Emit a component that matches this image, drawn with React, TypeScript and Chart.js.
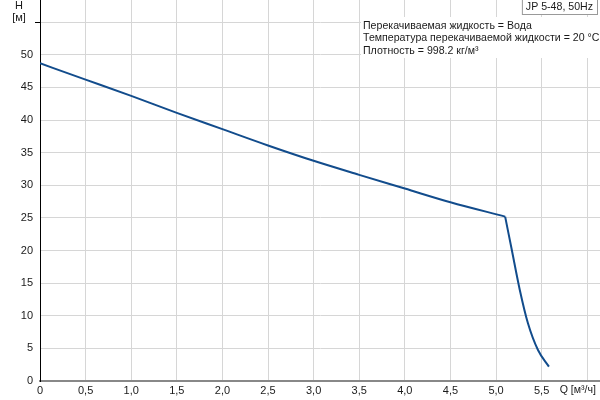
import React, { useEffect, useRef } from "react";
import { Chart, registerables } from "chart.js";

Chart.register(...registerables);

// Flat (working) part of the pump curve
const flowQ = [0, 0.5, 1, 1.5, 2, 2.5, 3, 3.5, 4, 4.5, 5.1];
const headH = [48.7, 46.2, 43.7, 41.1, 38.6, 36.1, 33.75, 31.6, 29.5, 27.4, 25.2];
// Steep end part of the pump curve
const flowQEnd = [5.1, 5.17, 5.26, 5.35, 5.46, 5.58];
const headHEnd = [25.2, 20.3, 14.0, 8.85, 4.75, 2.2];

const legendLabel = "JP 5-48, 50Hz";
const infoLines = [
  "Перекачиваемая жидкость = Вода",
  "Температура перекачиваемой жидкости = 20 °C",
  "Плотность = 998.2 кг/м³",
];
const yTitle = ["H", "[м]"];
const xTitle = "Q [м³/ч]";

const FONT = '"Liberation Sans", Arial, sans-serif';
const TXT = "#1a1a1a";
const LINE = "#124c8c";

const overlay = {
  id: "overlay",
  afterDraw(chart: any) {
    const ctx = chart.ctx as CanvasRenderingContext2D;
    const area = chart.chartArea;
    ctx.save();
    ctx.font = `11px ${FONT}`;
    ctx.fillStyle = TXT;
    ctx.textBaseline = "middle";
    ctx.textAlign = "center";
    ctx.fillText(yTitle[0], 19, 6);
    ctx.fillText(yTitle[1], 19, 18);
    ctx.font = `10.6px ${FONT}`;
    ctx.textAlign = "right";
    ctx.fillText(xTitle, 596, 390);
    // info box
    ctx.fillStyle = "#ffffff";
    ctx.fillRect(361, 17, area.right - 361, 41);
    ctx.fillStyle = TXT;
    ctx.textAlign = "left";
    infoLines.forEach((l, i) => ctx.fillText(l, 363, 26 + i * 12.5));
    // legend box
    const w = ctx.measureText(legendLabel).width;
    const bx = 598 - w - 9;
    ctx.fillStyle = "#ffffff";
    ctx.fillRect(bx, 0, w + 9, 15);
    ctx.strokeStyle = "#999999";
    ctx.lineWidth = 1;
    ctx.strokeRect(bx + 0.5, -1, w + 8, 15.5);
    ctx.fillStyle = TXT;
    ctx.fillText(legendLabel, bx + 4, 7.5);
    ctx.restore();
  },
};

export default function App() {
  const ref = useRef<HTMLCanvasElement>(null);
  useEffect(() => {
    if (!ref.current) return;
    const chart = new Chart(ref.current, {
      type: "line",
      data: {
        datasets: [
          {
            data: flowQ.map((q, i) => ({ x: q, y: headH[i] })),
            borderColor: LINE,
            borderWidth: 2,
            pointRadius: 0,
            cubicInterpolationMode: "monotone",
            fill: false,
          },
          {
            data: flowQEnd.map((q, i) => ({ x: q, y: headHEnd[i] })),
            borderColor: LINE,
            borderWidth: 2,
            pointRadius: 0,
            cubicInterpolationMode: "monotone",
            fill: false,
          },
        ],
      },
      options: {
        responsive: false,
        animation: false,
        layout: { padding: 0 },
        plugins: { legend: { display: false }, tooltip: { enabled: false } },
        scales: {
          x: {
            type: "linear",
            min: 0,
            max: 6.14,
            afterBuildTicks: (s: any) => {
              const t = [];
              for (let v = 0; v <= 6.0001; v += 0.5) t.push({ value: Math.round(v * 10) / 10 });
              s.ticks = t;
            },
            afterFit: (s: any) => {
              s.height = 19;
              s.paddingLeft = 0;
              s.paddingRight = 0;
            },
            ticks: {
              autoSkip: false,
              maxRotation: 0,
              padding: 3,
              color: TXT,
              font: { family: FONT, size: 11 },
              callback: (v: any) => {
                const n = Number(v);
                if (n >= 5.9) return "";
                return n === 0 ? "0" : n.toFixed(1).replace(".", ",");
              },
            },
            grid: { color: "#d6d6d6", lineWidth: 1, drawTicks: false },
            border: { color: "#888888", width: 2 },
          },
          y: {
            type: "linear",
            min: 0,
            max: 58.4,
            afterBuildTicks: (s: any) => {
              const t = [];
              for (let v = 0; v <= 55; v += 5) t.push({ value: v });
              s.ticks = t;
            },
            afterFit: (s: any) => {
              s.width = 40;
              s.paddingTop = 0;
              s.paddingBottom = 0;
            },
            ticks: {
              autoSkip: false,
              padding: 2,
              color: TXT,
              font: { family: FONT, size: 11 },
              callback: (v: any) => (Number(v) > 50 ? "" : String(v)),
            },
            grid: {
              color: "#d6d6d6",
              lineWidth: 1,
              tickLength: 5,
              tickColor: (c: any) => (c.tick && c.tick.value === 55 ? "#000000" : "rgba(0,0,0,0)"),
            },
            border: { color: "#000000", width: 1 },
          },
        },
      },
      plugins: [overlay],
    });
    return () => chart.destroy();
  }, []);
  return (
    <div style={{ position: "fixed", left: 0, top: 0, width: 600, height: 400, background: "#fff" }}>
      <canvas ref={ref} width={600} height={400} style={{ display: "block", width: 600, height: 400 }} />
    </div>
  );
}
